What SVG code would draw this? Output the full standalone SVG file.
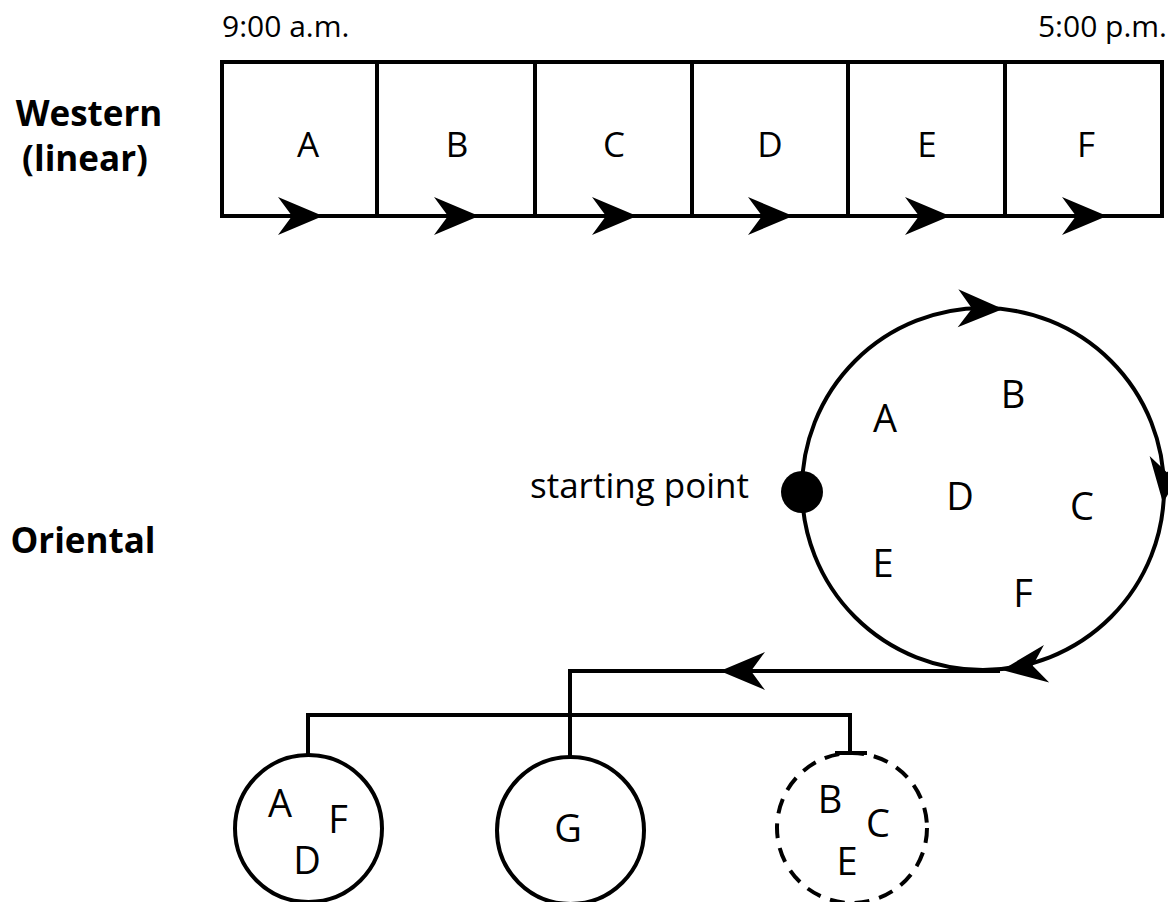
<svg xmlns="http://www.w3.org/2000/svg" width="1168" height="902" viewBox="0 0 1168 902">
<style>
.ln{fill:none;stroke:#000;stroke-width:4}
.dash{fill:none;stroke:#000;stroke-width:4;stroke-dasharray:15 10}
.t{font-family:"Open Sans","Noto Sans","DejaVu Sans",sans-serif;fill:#000}
.lbl{font-size:35px;text-anchor:middle}
.cl{font-size:38px;text-anchor:middle}
.time{font-size:30px}
.sp{font-size:35px}
.head{font-size:35px;font-weight:bold;text-anchor:middle}
</style>
<defs>
<path id="ah" d="M0,0 L-45,-19 L-31,0 L-45,19 Z" fill="#000"/>
</defs>
<rect width="1168" height="902" fill="#fff"/>

<g id="headings">
<text class="t head" x="89" y="126">Western</text>
<text class="t head" x="85" y="171">(linear)</text>
<text class="t head" x="83" y="553">Oriental</text>
<text class="t time" x="222" y="37">9:00 a.m.</text>
<text class="t time" x="1167" y="37" text-anchor="end">5:00 p.m.</text>
</g>

<g id="timeline">
<rect class="ln" x="222" y="62" width="940" height="154"/>
<path class="ln" d="M377,62V216M535,62V216M692,62V216M848,62V216M1005,62V216"/>
<text class="t lbl" x="308" y="157">A</text>
<text class="t lbl" x="457" y="157">B</text>
<text class="t lbl" x="614" y="157">C</text>
<text class="t lbl" x="770" y="157">D</text>
<text class="t lbl" x="927" y="157">E</text>
<text class="t lbl" x="1086" y="157">F</text>
<use href="#ah" transform="translate(323,216)"/>
<use href="#ah" transform="translate(479,216)"/>
<use href="#ah" transform="translate(637,216)"/>
<use href="#ah" transform="translate(793,216)"/>
<use href="#ah" transform="translate(950,216)"/>
<use href="#ah" transform="translate(1107,216)"/>
</g>

<g id="cycle">
<circle class="ln" cx="983" cy="489" r="181"/>
<use href="#ah" transform="translate(1003,309) rotate(1)"/>
<use href="#ah" transform="translate(1163,503) rotate(97)"/>
<use href="#ah" transform="translate(1002,670) rotate(172)"/>
<circle cx="802" cy="492" r="21" fill="#000"/>
<text class="t sp" x="530" y="498">starting point</text>
<text class="t cl" x="885" y="432">A</text>
<text class="t cl" x="1013" y="408">B</text>
<text class="t cl" x="960" y="510">D</text>
<text class="t cl" x="1082" y="520">C</text>
<text class="t cl" x="883" y="577">E</text>
<text class="t cl" x="1023" y="607">F</text>
</g>

<g id="connectors">
<path class="ln" d="M1000,671H570V757"/>
<use href="#ah" transform="translate(720,671) rotate(180)"/>
<path class="ln" d="M308,755V715H850V753"/>
<path class="ln" d="M835,753H867"/>
</g>

<g id="group-ADF">
<circle class="ln" cx="308.5" cy="828.5" r="73.5"/>
<text class="t cl" x="280" y="817">A</text>
<text class="t cl" x="338" y="833">F</text>
<text class="t cl" x="307" y="874">D</text>
</g>

<g id="group-G">
<circle class="ln" cx="570.5" cy="830.5" r="73.5"/>
<text class="t cl" x="568" y="842">G</text>
</g>

<g id="group-BCE">
<circle class="dash" cx="852" cy="828" r="75"/>
<text class="t cl" x="830" y="813">B</text>
<text class="t cl" x="878" y="837">C</text>
<text class="t cl" x="847" y="875">E</text>
</g>
</svg>
